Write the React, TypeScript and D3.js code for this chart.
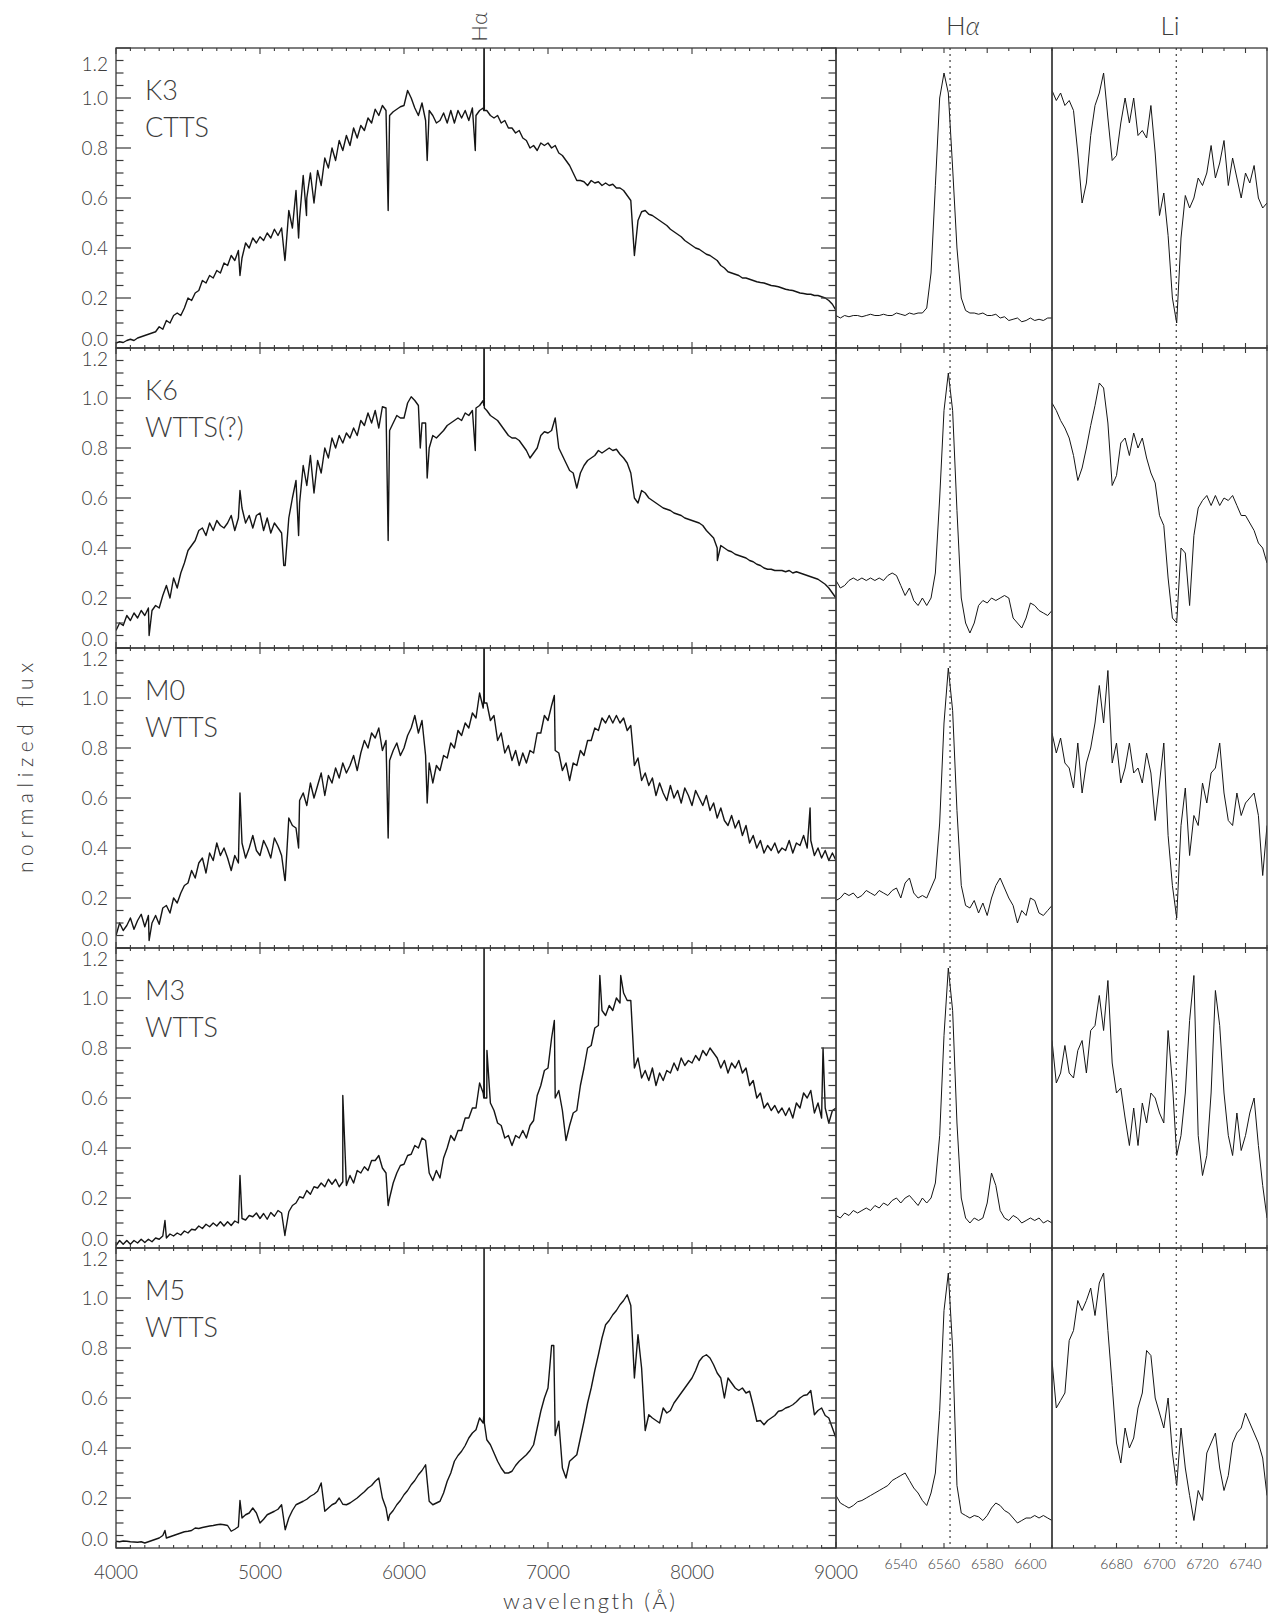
import React from 'react';
import * as d3 from 'd3';

// ---------- data ----------
const spectralTypes = ['K3', 'K6', 'M0', 'M3', 'M5'];
const starClasses = ['CTTS', 'WTTS(?)', 'WTTS', 'WTTS', 'WTTS'];

// full optical spectra, sampled every 25 Å from 4000 Å to 9000 Å
const WAVE_START = 4000;
const WAVE_STEP = 25;

const fluxK3 = [
  0.02, 0.025, 0.022, 0.03, 0.035, 0.03, 0.04, 0.045, 0.05, 0.055,
  0.06, 0.065, 0.085, 0.075, 0.11, 0.1, 0.13, 0.14, 0.13, 0.16,
  0.2, 0.19, 0.22, 0.23, 0.27, 0.26, 0.29, 0.28, 0.31, 0.3,
  0.34, 0.33, 0.37, 0.35, 0.39, 0.36, 0.42, 0.4, 0.44, 0.42,
  0.445, 0.43, 0.46, 0.44, 0.475, 0.45, 0.48, 0.36, 0.55, 0.48,
  0.63, 0.52, 0.69, 0.6, 0.7, 0.58, 0.71, 0.65, 0.76, 0.72,
  0.8, 0.75, 0.83, 0.79, 0.85, 0.81, 0.88, 0.84, 0.89, 0.87,
  0.92, 0.9, 0.955, 0.93, 0.97, 0.95, 0.93, 0.945, 0.955, 0.965,
  0.97, 1.03, 1.0, 0.96, 0.93, 0.98, 0.91, 0.95, 0.93, 0.9,
  0.91, 0.94, 0.9, 0.95, 0.9, 0.95, 0.92, 0.95, 0.91, 0.96,
  0.93, 0.95, 0.96, 0.95, 0.93, 0.92, 0.93, 0.9, 0.91, 0.88,
  0.88, 0.86, 0.87, 0.84, 0.83, 0.8, 0.81, 0.79, 0.82, 0.81,
  0.82, 0.8, 0.81, 0.78, 0.77, 0.75, 0.73, 0.7, 0.67, 0.67,
  0.665, 0.65, 0.67, 0.66, 0.665, 0.65, 0.66, 0.65, 0.655, 0.64,
  0.64, 0.63, 0.61, 0.59, 0.37, 0.51, 0.545, 0.55, 0.535, 0.53,
  0.52, 0.51, 0.5, 0.49, 0.475, 0.465, 0.455, 0.445, 0.43, 0.42,
  0.41, 0.4, 0.395, 0.385, 0.375, 0.37, 0.36, 0.35, 0.33, 0.32,
  0.305, 0.3, 0.295, 0.29, 0.28, 0.28, 0.275, 0.27, 0.265, 0.262,
  0.26, 0.255, 0.25, 0.248, 0.245, 0.24, 0.235, 0.232, 0.23, 0.225,
  0.22, 0.218, 0.215, 0.215, 0.21, 0.21, 0.205, 0.2, 0.19, 0.175,
  0.15,
];

const fluxK6 = [
  0.07, 0.1, 0.09, 0.13, 0.11, 0.14, 0.12, 0.15, 0.13, 0.16,
  0.15, 0.17, 0.16, 0.21, 0.25, 0.2, 0.28, 0.24, 0.3, 0.34,
  0.39, 0.41, 0.43, 0.47, 0.48, 0.45, 0.5, 0.47, 0.51, 0.49,
  0.48, 0.5, 0.53, 0.47, 0.52, 0.56, 0.5, 0.53, 0.48, 0.53,
  0.54, 0.47, 0.52, 0.46, 0.5, 0.48, 0.46, 0.33, 0.52, 0.6,
  0.67, 0.58, 0.73, 0.65, 0.77, 0.62, 0.75, 0.7, 0.8, 0.76,
  0.84, 0.8, 0.85, 0.82, 0.86, 0.84, 0.88, 0.85, 0.91, 0.89,
  0.94, 0.9, 0.95, 0.88, 0.965, 0.96, 0.87, 0.9, 0.93, 0.92,
  0.92, 0.98, 1.005, 0.99, 0.97, 0.9, 0.9, 0.8, 0.85, 0.84,
  0.855, 0.87, 0.89, 0.9, 0.91, 0.92, 0.91, 0.94, 0.93, 0.95,
  0.96, 0.97, 0.99, 0.95, 0.93, 0.92, 0.91, 0.89, 0.87, 0.85,
  0.84, 0.84, 0.83, 0.81, 0.79, 0.76, 0.78, 0.8, 0.85, 0.865,
  0.86, 0.87, 0.92, 0.8, 0.77, 0.74, 0.71, 0.7, 0.64, 0.7,
  0.73, 0.75, 0.76, 0.77, 0.79, 0.78, 0.79, 0.8, 0.79, 0.795,
  0.775, 0.76, 0.74, 0.7, 0.6, 0.58, 0.63, 0.62, 0.6, 0.59,
  0.58, 0.57, 0.56, 0.555, 0.55, 0.54, 0.535, 0.53, 0.52, 0.515,
  0.51, 0.505, 0.5, 0.49, 0.47, 0.455, 0.44, 0.4, 0.41, 0.4,
  0.39, 0.385, 0.375, 0.37, 0.365, 0.36, 0.35, 0.345, 0.335, 0.33,
  0.32, 0.315, 0.315, 0.31, 0.31, 0.31, 0.305, 0.31, 0.3, 0.305,
  0.3, 0.295, 0.29, 0.285, 0.28, 0.275, 0.265, 0.255, 0.24, 0.22,
  0.2,
];

const fluxM0 = [
  0.05, 0.1, 0.07, 0.09, 0.12, 0.075, 0.11, 0.135, 0.085, 0.13,
  0.1, 0.13, 0.095, 0.16, 0.17, 0.14, 0.2, 0.18, 0.22, 0.25,
  0.26, 0.31, 0.28, 0.34, 0.36, 0.3, 0.38, 0.35, 0.42, 0.37,
  0.4, 0.36, 0.31, 0.37, 0.34, 0.42, 0.36, 0.4, 0.45, 0.39,
  0.37, 0.43, 0.4, 0.36, 0.44, 0.41, 0.37, 0.27, 0.52, 0.49,
  0.48, 0.59, 0.62, 0.57, 0.66, 0.6, 0.65, 0.7, 0.61, 0.69,
  0.66, 0.72, 0.68, 0.74, 0.7, 0.73, 0.77, 0.71, 0.78, 0.83,
  0.8, 0.86, 0.84, 0.88, 0.79, 0.83, 0.75, 0.79, 0.82, 0.77,
  0.8, 0.85, 0.88, 0.93, 0.86, 0.91, 0.77, 0.74, 0.66, 0.73,
  0.71, 0.77, 0.76, 0.82, 0.8, 0.87, 0.85, 0.9, 0.88, 0.94,
  0.92, 1.02, 0.96, 0.98, 0.91, 0.93, 0.83, 0.86, 0.78, 0.81,
  0.75, 0.79, 0.73, 0.78, 0.74, 0.79, 0.78, 0.86, 0.86, 0.93,
  0.91, 0.97, 0.79, 0.78, 0.71, 0.74, 0.67, 0.74, 0.73, 0.79,
  0.77, 0.83, 0.83, 0.88, 0.87, 0.92, 0.9, 0.93, 0.9, 0.93,
  0.9, 0.92, 0.87, 0.89, 0.73, 0.76, 0.67, 0.7, 0.65, 0.68,
  0.61, 0.66, 0.62, 0.59, 0.65, 0.6, 0.63, 0.58, 0.64, 0.61,
  0.57, 0.63, 0.6, 0.57, 0.61, 0.55, 0.58, 0.52, 0.56, 0.51,
  0.49, 0.53, 0.48, 0.51, 0.45, 0.49, 0.42, 0.45, 0.4, 0.43,
  0.38, 0.41, 0.39, 0.42, 0.38, 0.4, 0.39, 0.43, 0.38, 0.42,
  0.41, 0.45, 0.4, 0.43, 0.37, 0.4, 0.36, 0.39, 0.35, 0.38,
  0.35,
];

const fluxM3 = [
  0.01, 0.03, 0.015, 0.03, 0.015, 0.03, 0.02, 0.035, 0.022, 0.035,
  0.025, 0.04, 0.035, 0.048, 0.04, 0.056, 0.048, 0.06, 0.052, 0.068,
  0.06, 0.075, 0.072, 0.088, 0.078, 0.095, 0.085, 0.1, 0.088, 0.105,
  0.088, 0.105, 0.09, 0.108, 0.1, 0.118, 0.112, 0.13, 0.125, 0.14,
  0.118, 0.138, 0.115, 0.142, 0.127, 0.15, 0.14, 0.06, 0.145, 0.17,
  0.18, 0.205, 0.2, 0.23, 0.215, 0.245, 0.24, 0.26, 0.245, 0.275,
  0.255, 0.275, 0.245, 0.265, 0.25, 0.29, 0.26, 0.31, 0.3, 0.325,
  0.31, 0.35, 0.35, 0.37, 0.32, 0.3, 0.2, 0.26, 0.3, 0.33,
  0.335, 0.37, 0.375, 0.41, 0.4, 0.44, 0.43, 0.3, 0.27, 0.31,
  0.28, 0.36, 0.4, 0.45, 0.43, 0.47, 0.47, 0.52, 0.52, 0.56,
  0.56, 0.66, 0.62, 0.6, 0.58, 0.55, 0.5, 0.49, 0.44, 0.45,
  0.41, 0.45, 0.44, 0.47, 0.44, 0.49, 0.51, 0.61, 0.65, 0.71,
  0.72, 0.84, 0.6, 0.63, 0.55, 0.43, 0.49, 0.54, 0.55, 0.65,
  0.72, 0.8, 0.81, 0.88, 0.89, 0.95, 0.93, 0.97, 0.95, 1.0,
  0.98, 1.02, 0.99, 0.99, 0.72, 0.76, 0.68, 0.71, 0.67, 0.72,
  0.65, 0.7, 0.67, 0.71, 0.7, 0.74, 0.71, 0.76, 0.73, 0.75,
  0.74, 0.77, 0.75, 0.79, 0.77, 0.8, 0.78, 0.76, 0.72, 0.75,
  0.7, 0.74, 0.72, 0.75, 0.7, 0.72, 0.65, 0.67, 0.6, 0.62,
  0.56, 0.58, 0.55, 0.57, 0.54, 0.56, 0.53, 0.56, 0.52, 0.58,
  0.56, 0.62, 0.6, 0.63, 0.54, 0.58, 0.52, 0.56, 0.5, 0.55,
  0.56,
];

const fluxM5 = [
  0.027, 0.025, 0.028, 0.027, 0.025, 0.024, 0.023, 0.025, 0.02, 0.025,
  0.03, 0.035, 0.04, 0.05, 0.04, 0.045, 0.05, 0.055, 0.06, 0.065,
  0.067, 0.07, 0.08, 0.078, 0.082, 0.085, 0.088, 0.09, 0.093, 0.095,
  0.093, 0.09, 0.067, 0.075, 0.085, 0.12, 0.133, 0.14, 0.16, 0.14,
  0.1, 0.115, 0.133, 0.14, 0.147, 0.155, 0.173, 0.073, 0.12, 0.15,
  0.173, 0.18, 0.187, 0.195, 0.207, 0.215, 0.227, 0.26, 0.147, 0.16,
  0.173, 0.18, 0.2, 0.175, 0.173, 0.18, 0.19, 0.2, 0.213, 0.225,
  0.24, 0.25, 0.267, 0.28, 0.2, 0.16, 0.133, 0.15, 0.173, 0.19,
  0.213, 0.23, 0.253, 0.27, 0.293, 0.31, 0.333, 0.187, 0.173, 0.18,
  0.187, 0.22, 0.267, 0.3, 0.347, 0.37, 0.387, 0.41, 0.44, 0.46,
  0.473, 0.52, 0.5, 0.433, 0.413, 0.38, 0.347, 0.32, 0.3, 0.3,
  0.307, 0.33, 0.347, 0.36, 0.373, 0.39, 0.413, 0.48, 0.547, 0.6,
  0.64, 0.81, 0.45, 0.507, 0.32, 0.28, 0.347, 0.36, 0.373, 0.44,
  0.507, 0.58, 0.64, 0.71, 0.773, 0.84, 0.893, 0.91, 0.933, 0.95,
  0.973, 0.99, 1.013, 0.97, 0.68, 0.853, 0.72, 0.47, 0.533, 0.52,
  0.51, 0.5, 0.56, 0.54, 0.55, 0.58, 0.6, 0.62, 0.64, 0.66,
  0.68, 0.71, 0.747, 0.765, 0.773, 0.76, 0.733, 0.7, 0.68, 0.6,
  0.68, 0.66, 0.64, 0.63, 0.64, 0.62, 0.627, 0.57, 0.507, 0.51,
  0.493, 0.51, 0.52, 0.53, 0.547, 0.55, 0.56, 0.565, 0.573, 0.585,
  0.6, 0.61, 0.613, 0.63, 0.533, 0.55, 0.56, 0.53, 0.52, 0.48,
  0.44,
];

// narrow lines (wavelength, flux) that fall between the 25 Å samples
const linesK3 = [
  [4861, 0.29], [5173, 0.35], [5268, 0.44], [5323, 0.53], [5890, 0.55],
  [6161, 0.75], [6495, 0.79], [6554, 0.95], [6556, 1.4], [6558, 0.95],
];
const linesK6 = [
  [4230, 0.05], [4861, 0.63], [5165, 0.33], [5268, 0.45], [5890, 0.43],
  [6113, 0.8], [6161, 0.68], [6495, 0.79], [6554, 0.97], [6556, 1.4],
  [6558, 0.96], [8176, 0.35],
];
const linesM0 = [
  [4230, 0.03], [4861, 0.62], [5173, 0.27], [5268, 0.4], [5890, 0.44],
  [6161, 0.58], [6554, 1.0], [6556, 1.4], [6558, 0.98], [7044, 1.01],
  [8820, 0.56],
];
const linesM3 = [
  [4340, 0.11], [4861, 0.29], [5173, 0.05], [5575, 0.61], [5890, 0.17],
  [6554, 0.6], [6556, 1.4], [6558, 0.6], [6576, 0.79], [7044, 0.91],
  [7360, 1.09], [7505, 1.09], [8910, 0.8],
];
const linesM5 = [
  [4340, 0.07], [4861, 0.19], [5890, 0.11], [6554, 0.53], [6556, 1.4],
  [6558, 0.5], [7040, 0.81],
];

// H-alpha window, 6510–6610 Å every 2 Å
const HA_START = 6510;
const HA_STEP = 2;
const haK3 = [
  0.13, 0.12, 0.13, 0.125, 0.13, 0.13, 0.125, 0.13, 0.135, 0.13,
  0.13, 0.135, 0.13, 0.13, 0.14, 0.135, 0.13, 0.14, 0.135, 0.14,
  0.14, 0.16, 0.3, 0.65, 1.0, 1.1, 1.02, 0.72, 0.4, 0.2,
  0.15, 0.14, 0.14, 0.135, 0.14, 0.13, 0.13, 0.135, 0.12, 0.125,
  0.11, 0.115, 0.12, 0.105, 0.11, 0.12, 0.11, 0.115, 0.11, 0.12,
  0.12,
];
const haK6 = [
  0.27, 0.24, 0.25, 0.27, 0.28, 0.27, 0.28, 0.27, 0.28, 0.27,
  0.28, 0.27, 0.29, 0.3, 0.29, 0.25, 0.21, 0.24, 0.19, 0.17,
  0.2, 0.17, 0.2, 0.3, 0.6, 0.95, 1.1, 0.95, 0.55, 0.2,
  0.1, 0.06, 0.1, 0.17, 0.19, 0.18, 0.2, 0.19, 0.2, 0.21,
  0.2, 0.12, 0.1, 0.08, 0.12, 0.18, 0.17, 0.15, 0.14, 0.13,
  0.15,
];
const haM0 = [
  0.19, 0.2, 0.22, 0.21, 0.22, 0.2, 0.21, 0.23, 0.22, 0.21,
  0.23, 0.22, 0.21, 0.23, 0.24, 0.2, 0.26, 0.28, 0.22, 0.2,
  0.21, 0.2, 0.24, 0.28, 0.5, 0.9, 1.12, 0.95, 0.55, 0.25,
  0.17, 0.16, 0.19, 0.14, 0.18, 0.13, 0.2, 0.25, 0.28, 0.24,
  0.2, 0.17, 0.1, 0.15, 0.13, 0.2, 0.19, 0.14, 0.13, 0.15,
  0.17,
];
const haM3 = [
  0.13, 0.12, 0.14, 0.13, 0.15, 0.14, 0.15, 0.16, 0.15, 0.17,
  0.16, 0.18, 0.17, 0.19, 0.2, 0.18, 0.2, 0.21, 0.19, 0.17,
  0.2, 0.18, 0.2, 0.26, 0.45, 0.85, 1.12, 0.95, 0.5, 0.2,
  0.12, 0.1, 0.12, 0.11, 0.12, 0.18, 0.3, 0.25, 0.15, 0.12,
  0.11, 0.13, 0.12, 0.1, 0.11, 0.12, 0.11, 0.12, 0.1, 0.11,
  0.1,
];
const haM5 = [
  0.21, 0.18, 0.17, 0.16, 0.17, 0.185, 0.19, 0.2, 0.21, 0.22,
  0.23, 0.24, 0.25, 0.27, 0.28, 0.29, 0.3, 0.27, 0.24, 0.22,
  0.19, 0.17, 0.22, 0.3, 0.55, 0.95, 1.1, 0.8, 0.25, 0.14,
  0.13, 0.12, 0.13, 0.125, 0.11, 0.13, 0.16, 0.18, 0.17, 0.15,
  0.14, 0.12, 0.1, 0.11, 0.12, 0.12, 0.13, 0.12, 0.13, 0.12,
  0.11,
];

// Li I window, 6650–6750 Å every 2 Å
const LI_START = 6650;
const LI_STEP = 2;
const liK3 = [
  1.03, 0.99, 1.02, 0.97, 0.99, 0.95, 0.78, 0.58, 0.66, 0.85,
  0.97, 1.02, 1.1, 0.92, 0.75, 0.77, 0.9, 1.0, 0.9, 1.0,
  0.85, 0.87, 0.84, 0.97, 0.78, 0.53, 0.62, 0.45, 0.2, 0.1,
  0.44, 0.61, 0.56, 0.6, 0.68, 0.65, 0.7, 0.81, 0.68, 0.74,
  0.83, 0.65, 0.76, 0.68, 0.6, 0.7, 0.66, 0.73, 0.6, 0.56,
  0.58,
];
const liK6 = [
  0.98, 0.95, 0.91, 0.88, 0.84, 0.77, 0.67, 0.72, 0.8, 0.89,
  0.97, 1.06, 1.04, 0.9, 0.65, 0.69, 0.82, 0.84, 0.77, 0.86,
  0.8, 0.84, 0.76, 0.7, 0.66, 0.53, 0.49, 0.28, 0.12, 0.1,
  0.4, 0.38, 0.17, 0.45, 0.56, 0.59, 0.61, 0.57, 0.61, 0.57,
  0.6, 0.59, 0.61, 0.57, 0.53, 0.53, 0.5, 0.47, 0.42, 0.4,
  0.34,
];
const liM0 = [
  0.86, 0.78, 0.84, 0.74, 0.72, 0.64, 0.82, 0.62, 0.74, 0.8,
  0.9, 1.05, 0.9, 1.11, 0.74, 0.82, 0.66, 0.72, 0.82, 0.7,
  0.72, 0.66, 0.78, 0.7, 0.51, 0.66, 0.82, 0.45, 0.25, 0.12,
  0.49, 0.64, 0.37, 0.53, 0.49, 0.66, 0.58, 0.7, 0.72, 0.82,
  0.62, 0.51, 0.49, 0.62, 0.53, 0.58, 0.6, 0.62, 0.53, 0.29,
  0.49,
];
const liM3 = [
  0.83, 0.66, 0.7, 0.81, 0.7, 0.68, 0.79, 0.83, 0.7, 0.87,
  0.89, 1.01, 0.87, 1.07, 0.74, 0.62, 0.64, 0.52, 0.41, 0.56,
  0.41, 0.58, 0.5, 0.62, 0.6, 0.54, 0.5, 0.87, 0.66, 0.37,
  0.45, 0.62, 0.91, 1.09, 0.45, 0.29, 0.37, 0.62, 1.03, 0.89,
  0.62, 0.45, 0.37, 0.54, 0.39, 0.45, 0.54, 0.6, 0.41, 0.25,
  0.12,
];
const liM5 = [
  0.75, 0.56, 0.59, 0.62, 0.83, 0.87, 0.99, 0.95, 0.99, 1.04,
  0.93, 1.06, 1.1, 0.87, 0.65, 0.42, 0.34, 0.48, 0.4, 0.44,
  0.56, 0.62, 0.79, 0.77, 0.6, 0.54, 0.48, 0.6, 0.38, 0.25,
  0.48, 0.32, 0.21, 0.11, 0.23, 0.19, 0.38, 0.42, 0.46, 0.32,
  0.23, 0.29, 0.42, 0.46, 0.48, 0.54, 0.5, 0.46, 0.42, 0.36,
  0.21,
];

const spectra = [fluxK3, fluxK6, fluxM0, fluxM3, fluxM5];
const narrowLines = [linesK3, linesK6, linesM0, linesM3, linesM5];
const haProfiles = [haK3, haK6, haM0, haM3, haM5];
const liProfiles = [liK3, liK6, liM0, liM3, liM5];

const HA_REST = 6562.8;
const LI_REST = 6707.8;

const fluxTicks = [0, 0.2, 0.4, 0.6, 0.8, 1.0, 1.2];
const mainWaveLabels = [4000, 5000, 6000, 7000, 8000, 9000];
const haWaveLabels = [6540, 6560, 6580, 6600];
const liWaveLabels = [6680, 6700, 6720, 6740];

// ---------- layout ----------
const WIDTH = 1268;
const HEIGHT = 1617;
const TOP = 48;
const PANEL_H = 300;
const X0 = 116;
const X1 = 836;
const X2 = 1052;
const X3 = 1267;

const FONT = "Lato, 'Open Sans', 'DejaVu Sans', sans-serif";
const AXIS = '#3a3a3a';
const INK = '#151515';
const TEXT = '#3c3c3c';

type Pt = [number, number];

function sampled(start: number, step: number, values: number[], extra: number[][] = []): Pt[] {
  const pts: Pt[] = values.map((v, i) => [start + i * step, v] as Pt);
  extra.forEach((e) => pts.push([e[0], e[1]]));
  return pts.sort((a, b) => a[0] - b[0]);
}

export default function App() {
  const xMain = d3.scaleLinear().domain([4000, 9000]).range([X0, X1]);
  const xHa = d3.scaleLinear().domain([6510, 6610]).range([X1, X2]);
  const xLi = d3.scaleLinear().domain([6650, 6750]).range([X2, X3]);

  const minorFlux = d3.range(0, 24.5, 1).map((k) => k * 0.05);
  const mainTicks = d3.range(4000, 9001, 100);
  const haTicks = d3.range(6520, 6611, 10);
  const liTicks = d3.range(6660, 6751, 10);

  const panels = spectralTypes.map((type, i) => {
    const top = TOP + i * PANEL_H;
    const bottom = top + PANEL_H;
    const y = d3.scaleLinear().domain([0, 1.2]).range([bottom, top]);
    const mainLine = d3.line<Pt>().x((d) => xMain(d[0])).y((d) => y(d[1]));
    const haLine = d3.line<Pt>().x((d) => xHa(d[0])).y((d) => y(d[1]));
    const liLine = d3.line<Pt>().x((d) => xLi(d[0])).y((d) => y(d[1]));
    const mainPath = mainLine(sampled(WAVE_START, WAVE_STEP, spectra[i], narrowLines[i])) || '';
    const haPath = haLine(sampled(HA_START, HA_STEP, haProfiles[i])) || '';
    const liPath = liLine(sampled(LI_START, LI_STEP, liProfiles[i])) || '';

    return (
      <g key={type}>
        <defs>
          <clipPath id={`clip-main-${i}`}>
            <rect x={X0} y={top} width={X1 - X0} height={PANEL_H} />
          </clipPath>
          <clipPath id={`clip-ha-${i}`}>
            <rect x={X1} y={top} width={X2 - X1} height={PANEL_H} />
          </clipPath>
          <clipPath id={`clip-li-${i}`}>
            <rect x={X2} y={top} width={X3 - X2} height={PANEL_H} />
          </clipPath>
        </defs>

        {/* spectra */}
        <path d={mainPath} fill="none" stroke={INK} strokeWidth={1.4} strokeLinejoin="round" clipPath={`url(#clip-main-${i})`} />
        <path d={haPath} fill="none" stroke={INK} strokeWidth={1} clipPath={`url(#clip-ha-${i})`} />
        <path d={liPath} fill="none" stroke={INK} strokeWidth={1} clipPath={`url(#clip-li-${i})`} />

        {/* rest wavelengths */}
        <line x1={xHa(HA_REST)} x2={xHa(HA_REST)} y1={top} y2={bottom} stroke={AXIS} strokeWidth={1.2} strokeDasharray="2,4" />
        <line x1={xLi(LI_REST)} x2={xLi(LI_REST)} y1={top} y2={bottom} stroke={AXIS} strokeWidth={1.2} strokeDasharray="2,4" />

        {/* frames */}
        <rect x={X0} y={top} width={X1 - X0} height={PANEL_H} fill="none" stroke={AXIS} strokeWidth={1.3} />
        <rect x={X1} y={top} width={X2 - X1} height={PANEL_H} fill="none" stroke={AXIS} strokeWidth={1.3} />
        <rect x={X2} y={top} width={X3 - X2} height={PANEL_H} fill="none" stroke={AXIS} strokeWidth={1.3} />

        {/* flux ticks on the main panel */}
        {minorFlux.map((v, k) => {
          const len = k % 4 === 0 ? 15 : 7.5;
          return (
            <g key={`yt${k}`} stroke={AXIS} strokeWidth={1.2}>
              <line x1={X0} x2={X0 + len} y1={y(v)} y2={y(v)} />
              <line x1={X1 - len} x2={X1} y1={y(v)} y2={y(v)} />
            </g>
          );
        })}

        {/* wavelength ticks */}
        {mainTicks.map((w) => {
          const len = w % 1000 === 0 ? 6 : 3;
          return (
            <g key={`xt${w}`} stroke={AXIS} strokeWidth={1.1}>
              <line x1={xMain(w)} x2={xMain(w)} y1={top} y2={top + len} />
              <line x1={xMain(w)} x2={xMain(w)} y1={bottom - len} y2={bottom} />
            </g>
          );
        })}
        {haTicks.map((w) => {
          const len = haWaveLabels.includes(w) ? 5 : 3;
          return (
            <g key={`ht${w}`} stroke={AXIS} strokeWidth={1.1}>
              <line x1={xHa(w)} x2={xHa(w)} y1={top} y2={top + len} />
              <line x1={xHa(w)} x2={xHa(w)} y1={bottom - len} y2={bottom} />
            </g>
          );
        })}
        {liTicks.map((w) => {
          const len = liWaveLabels.includes(w) ? 5 : 3;
          return (
            <g key={`lt${w}`} stroke={AXIS} strokeWidth={1.1}>
              <line x1={xLi(w)} x2={xLi(w)} y1={top} y2={top + len} />
              <line x1={xLi(w)} x2={xLi(w)} y1={bottom - len} y2={bottom} />
            </g>
          );
        })}

        {/* flux tick labels */}
        {fluxTicks.map((v) => {
          let cy = y(v);
          if (v === 0) cy -= 9;
          if (v === 1.2) cy += i === 0 ? 16 : 11;
          return (
            <text key={`yl${v}`} x={108} y={cy + 7} textAnchor="end" fontSize={19} fontWeight={300} fill={TEXT}>
              {d3.format('.1f')(v)}
            </text>
          );
        })}

        {/* spectral type and class */}
        <text x={145} y={top + 52} fontSize={27} fontWeight={300} fill={TEXT}>{type}</text>
        <text x={145} y={top + 89} fontSize={27} fontWeight={300} fill={TEXT}>{starClasses[i]}</text>
      </g>
    );
  });

  const lastBottom = TOP + 5 * PANEL_H;

  return (
    <svg width={WIDTH} height={HEIGHT} style={{ position: 'absolute', left: 0, top: 0, background: '#fff' }} fontFamily={FONT}>
      <rect x={0} y={0} width={WIDTH} height={HEIGHT} fill="#fff" />
      {panels}

      {/* bottom wavelength labels */}
      {mainWaveLabels.map((w) => (
        <text key={`mw${w}`} x={xMain(w)} y={lastBottom + 31} textAnchor="middle" fontSize={19} fontWeight={300} fill={TEXT}>{w}</text>
      ))}
      {haWaveLabels.map((w) => (
        <text key={`hw${w}`} x={xHa(w)} y={lastBottom + 21} textAnchor="middle" fontSize={14} fontWeight={300} fill={TEXT}>{w}</text>
      ))}
      {liWaveLabels.map((w) => (
        <text key={`lw${w}`} x={xLi(w)} y={lastBottom + 21} textAnchor="middle" fontSize={14} fontWeight={300} fill={TEXT}>{w}</text>
      ))}

      {/* window titles */}
      <text x={963} y={35} textAnchor="middle" fontSize={26} fontWeight={300} fill={TEXT}>H<tspan fontStyle="italic">α</tspan></text>
      <text x={1170} y={35} textAnchor="middle" fontSize={26} fontWeight={300} fill={TEXT}>Li</text>
      <text transform={`translate(${xMain(6556) + 3},27) rotate(-90)`} textAnchor="middle" fontSize={22} fontWeight={300} fill={TEXT}>Hα</text>

      {/* axis titles */}
      <text transform="translate(33,768) rotate(-90)" textAnchor="middle" fontSize={21} fontWeight={300} fill={TEXT} textLength={210} lengthAdjust="spacing">normalized flux</text>
      <text x={589} y={1609} textAnchor="middle" fontSize={22} fontWeight={300} fill={TEXT} textLength={172} lengthAdjust="spacing">wavelength (Å)</text>
    </svg>
  );
}
